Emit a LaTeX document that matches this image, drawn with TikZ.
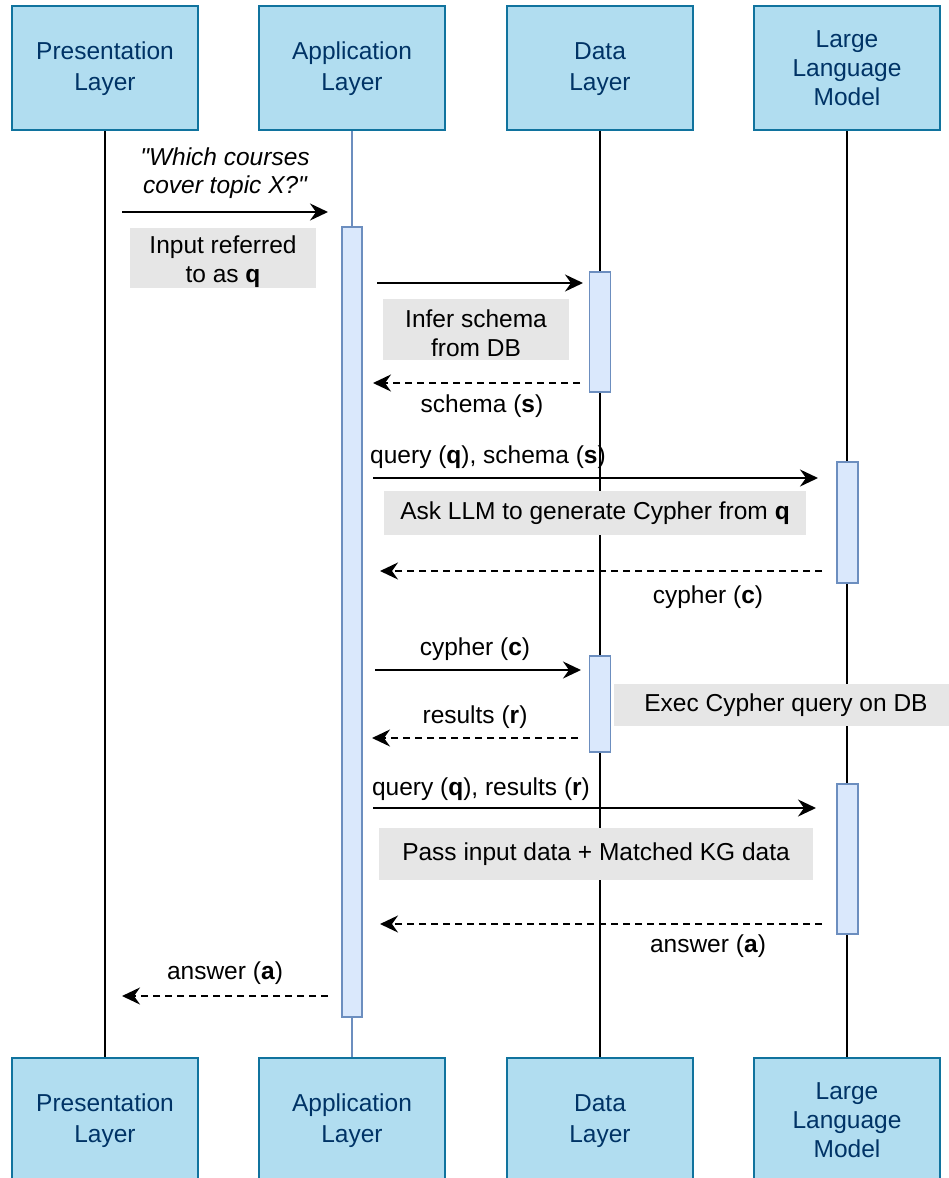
\documentclass[tikz,border=0pt]{standalone}
\usepackage{fontspec}
\setmainfont{Liberation Sans}
\usetikzlibrary{arrows.meta}
\definecolor{headfill}{HTML}{B1DDF0}
\definecolor{headline}{HTML}{10739E}
\definecolor{headtext}{HTML}{003366}
\definecolor{barfill}{HTML}{DAE8FC}
\definecolor{barline}{HTML}{6C8EBF}
\definecolor{notefill}{HTML}{E6E6E6}
% taller first line pushes two-line text a little lower
\newcommand{\toppad}{\rule{0pt}{25pt}}
\newcommand{\headpad}{\rule{0pt}{19pt}}
\begin{document}
\begin{tikzpicture}[x=1pt,y=-1pt,
  txt/.style={font=\fontsize{24.5}{29}\selectfont},
  head/.style={txt, rectangle, draw=headline, fill=headfill, line width=2pt,
    minimum width=186pt, minimum height=124pt, text=headtext, align=center, inner sep=0pt},
  head2/.style={head, font=\fontsize{24.5}{30.5}\selectfont},
  actbar/.style={rectangle, draw=barline, fill=barfill, line width=1.5pt,
    minimum width=20pt, inner sep=0pt},
  note/.style={txt, rectangle, fill=notefill, align=center, inner sep=0pt},
  lifeline/.style={line width=2pt},
  lifelineapp/.style={line width=1.5pt, draw=barline},
  call/.style={line width=2pt, -{Stealth[length=18pt,width=17pt,inset=6pt]}},
  reply/.style={call, dash pattern=on 7pt off 5pt},
  lbl/.style={txt, inner sep=0pt, align=center}
]
\useasboundingbox (0,0) rectangle (949,1178);

% participants, top and bottom
\node[head2] (pt) at (105,68)  {\headpad Presentation\\Layer};
\node[head2] (at) at (352,68)  {\headpad Application\\Layer};
\node[head2] (dt) at (600,68)  {\headpad Data\\Layer};
\node[head]  (lt) at (847,68)  {Large\\Language\\Model};
\node[head2] (pb) at (105,1120) {\headpad Presentation\\Layer};
\node[head2] (ab) at (352,1120) {\headpad Application\\Layer};
\node[head2] (db) at (600,1120) {\headpad Data\\Layer};
\node[head]  (lb) at (847,1120) {Large\\Language\\Model};

% lifelines
\draw[lifeline] (pt.south) -- (pb.north);
\draw[lifelineapp] (at.south) -- (ab.north);
\draw[lifeline] (dt.south) -- (db.north);
\draw[lifeline] (lt.south) -- (lb.north);

% activation bars
\node[actbar, minimum height=790pt] (appbar) at (352,622) {};
\node[actbar, minimum width=21pt, minimum height=120pt] (dbar1) at (600,332) {};
\node[actbar, minimum width=21pt, minimum height=121pt] (lbar1) at (847.5,522.5) {};
\node[actbar, minimum width=21pt, minimum height=96pt] (dbar2) at (600,704) {};
\node[actbar, minimum width=21pt, minimum height=150pt] (lbar2) at (847.5,859) {};

% notes
\node[note, minimum width=186pt, minimum height=60pt] (nq) at (223,258) {\toppad Input referred\\to as \textbf{q}};
\node[note, minimum width=186pt, minimum height=61pt] (ninfer) at (476,329.5) {\toppad Infer schema\\from DB};
\node[note, minimum width=422pt, minimum height=44pt] (nask) at (595,513) {Ask LLM to generate Cypher from \textbf{q}};
\node[note, minimum width=344pt, minimum height=42pt] (nexec) at (786,705) {Exec Cypher query on DB};
\node[note, minimum width=434pt, minimum height=52pt] (npass) at (596,854) {Pass input data + Matched KG data};

% message end points
\coordinate (m1a) at (122,212); \coordinate (m1b) at (328,212);
\coordinate (m2a) at (377,283); \coordinate (m2b) at (583,283);
\coordinate (r1a) at (580,383); \coordinate (r1b) at (373,383);
\coordinate (m3a) at (373,478); \coordinate (m3b) at (818,478);
\coordinate (r2a) at (822,571); \coordinate (r2b) at (380,571);
\coordinate (m4a) at (375,670); \coordinate (m4b) at (581,670);
\coordinate (r3a) at (578,738); \coordinate (r3b) at (372,738);
\coordinate (m5a) at (373,808); \coordinate (m5b) at (816,808);
\coordinate (r4a) at (822,924); \coordinate (r4b) at (380,924);
\coordinate (r5a) at (328,996); \coordinate (r5b) at (122,996);

% messages
\draw[call]  (m1a) -- (m1b);
\draw[call]  (m2a) -- (m2b);
\draw[reply] (r1a) -- (r1b);
\draw[call]  (m3a) -- (m3b);
\draw[reply] (r2a) -- (r2b);
\draw[call]  (m4a) -- (m4b);
\draw[reply] (r3a) -- (r3b);
\draw[call]  (m5a) -- (m5b);
\draw[reply] (r4a) -- (r4b);
\draw[reply] (r5a) -- (r5b);

% message labels
\node[lbl, font=\fontsize{24.5}{28}\itshape] (l1) at (225,173) {\textquotedbl Which courses\\cover topic X?\textquotedbl};
\node[lbl] (l2) at (482,406) {schema (\textbf{s})};
\node[lbl] (l3) at (488,457) {query (\textbf{q}), schema (\textbf{s})};
\node[lbl] (l4) at (708,597) {cypher (\textbf{c})};
\node[lbl] (l5) at (475,649) {cypher (\textbf{c})};
\node[lbl] (l6) at (475,717) {results (\textbf{r})};
\node[lbl] (l7) at (481,789) {query (\textbf{q}), results (\textbf{r})};
\node[lbl] (l8) at (708,946) {answer (\textbf{a})};
\node[lbl] (l9) at (225,973) {answer (\textbf{a})};
\end{tikzpicture}
\end{document}
